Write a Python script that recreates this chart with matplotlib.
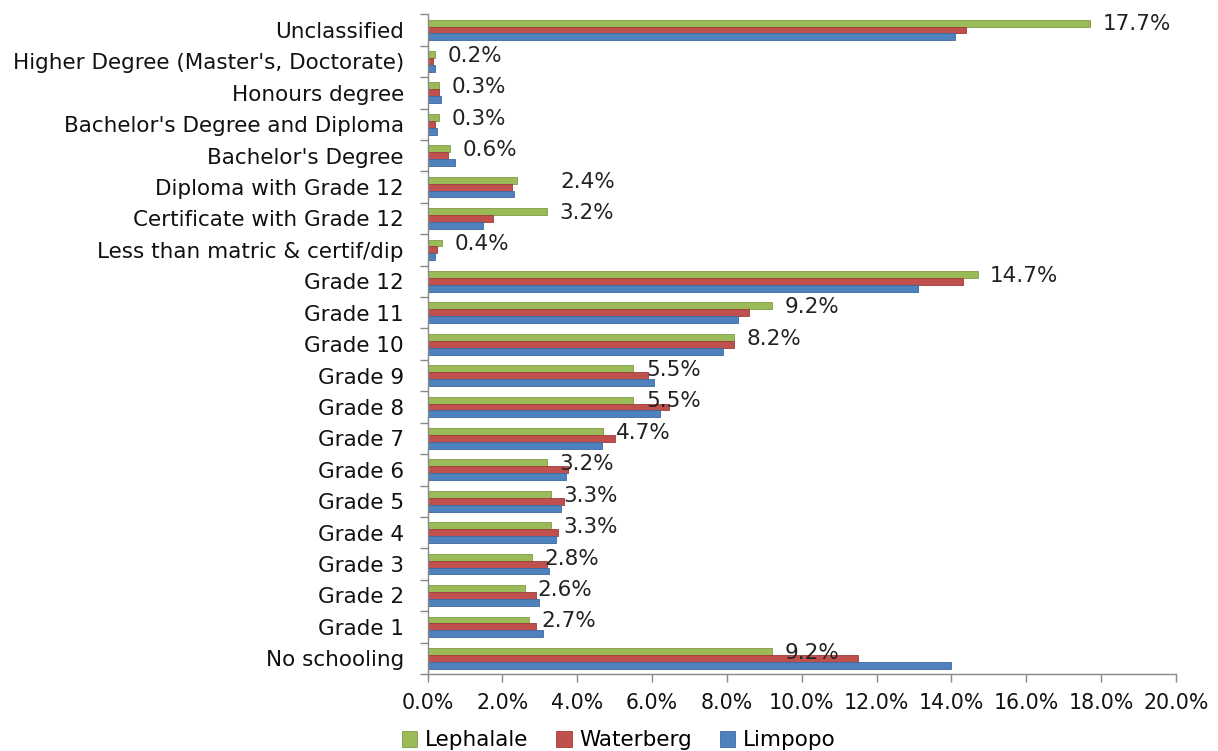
import matplotlib
matplotlib.use("Agg")
import matplotlib.pyplot as plt
from matplotlib.ticker import FuncFormatter, FixedLocator
import numpy as np

plt.rcParams['font.family'] = ['DejaVu Sans']

categories = [
    "Unclassified",
    "Higher Degree (Master's, Doctorate)",
    "Honours degree",
    "Bachelor's Degree and Diploma",
    "Bachelor's Degree",
    "Diploma with Grade 12",
    "Certificate with Grade 12",
    "Less than matric & certif/dip",
    "Grade 12",
    "Grade 11",
    "Grade 10",
    "Grade 9",
    "Grade 8",
    "Grade 7",
    "Grade 6",
    "Grade 5",
    "Grade 4",
    "Grade 3",
    "Grade 2",
    "Grade 1",
    "No schooling",
]

lephalale = [17.7, 0.2, 0.3, 0.3, 0.6, 2.4, 3.2, 0.4, 14.7, 9.2, 8.2, 5.5, 5.5,
             4.7, 3.2, 3.3, 3.3, 2.8, 2.6, 2.7, 9.2]
waterberg = [14.4, 0.15, 0.3, 0.2, 0.55, 2.25, 1.75, 0.26, 14.3, 8.6, 8.2, 5.9, 6.45,
             5.0, 3.75, 3.65, 3.5, 3.2, 2.9, 2.9, 11.5]
limpopo = [14.1, 0.2, 0.35, 0.25, 0.73, 2.3, 1.47, 0.2, 13.1, 8.3, 7.9, 6.05, 6.2,
           4.65, 3.7, 3.57, 3.42, 3.25, 2.98, 3.08, 14.0]

series_names = ["Lephalale", "Waterberg", "Limpopo"]
colors = ["#9BBB59", "#C0504D", "#4F81BD"]
edges = ["#7f9a45", "#9e3b38", "#3a6aa3"]

fig = plt.figure(figsize=(12.18, 7.51), dpi=100)
ax = fig.add_axes([0.351, 0.1025, 0.6145, 0.8785])

y = np.arange(len(categories))
h = 0.22
for k, (vals, name, c, ec) in enumerate(zip([lephalale, waterberg, limpopo],
                                            series_names, colors, edges)):
    ax.barh(y + (k - 1) * h, vals, height=h, color=c, edgecolor=ec,
            linewidth=0.6, label=name)

# value labels for Lephalale (the Diploma label sits a little further out)
label_shift = {"Diploma with Grade 12": 22}
for cat, yi, v in zip(categories, y, lephalale):
    dx = 9 + label_shift.get(cat, 0)
    ax.annotate(f"{v:.1f}%", xy=(v, yi - h), xytext=(dx, -1),
                textcoords="offset points", ha="left", va="center",
                fontsize=15.5, color="#222222")

ax.set_xlim(0, 20)
ax.set_ylim(len(categories) - 0.5, -0.5)
ax.set_xticks(np.arange(0, 20.1, 2))
ax.xaxis.set_major_formatter(FuncFormatter(lambda v, p: f"{v:.1f}%"))
ax.set_yticks(y)
ax.set_yticklabels(categories)
ax.yaxis.set_minor_locator(FixedLocator(np.arange(-0.5, len(categories), 1)))
ax.tick_params(axis="y", which="major", length=0, pad=17, labelsize=15.5,
               labelcolor="#111111")
ax.tick_params(axis="y", which="minor", length=6, color="#888888", width=1)
ax.tick_params(axis="x", which="major", length=6, color="#888888", width=1,
               labelsize=14.8, pad=8, labelcolor="#111111")

for s in ["top", "right"]:
    ax.spines[s].set_visible(False)
for s in ["left", "bottom"]:
    ax.spines[s].set_color("#888888")
    ax.spines[s].set_linewidth(1)

leg = fig.legend(loc="center", bbox_to_anchor=(0.508, 0.014), ncol=3,
                 frameon=False, fontsize=15.5, handlelength=0.72,
                 handleheight=0.72, handletextpad=0.35, columnspacing=1.3)

fig.savefig("out.png", dpi=100, facecolor="white")
